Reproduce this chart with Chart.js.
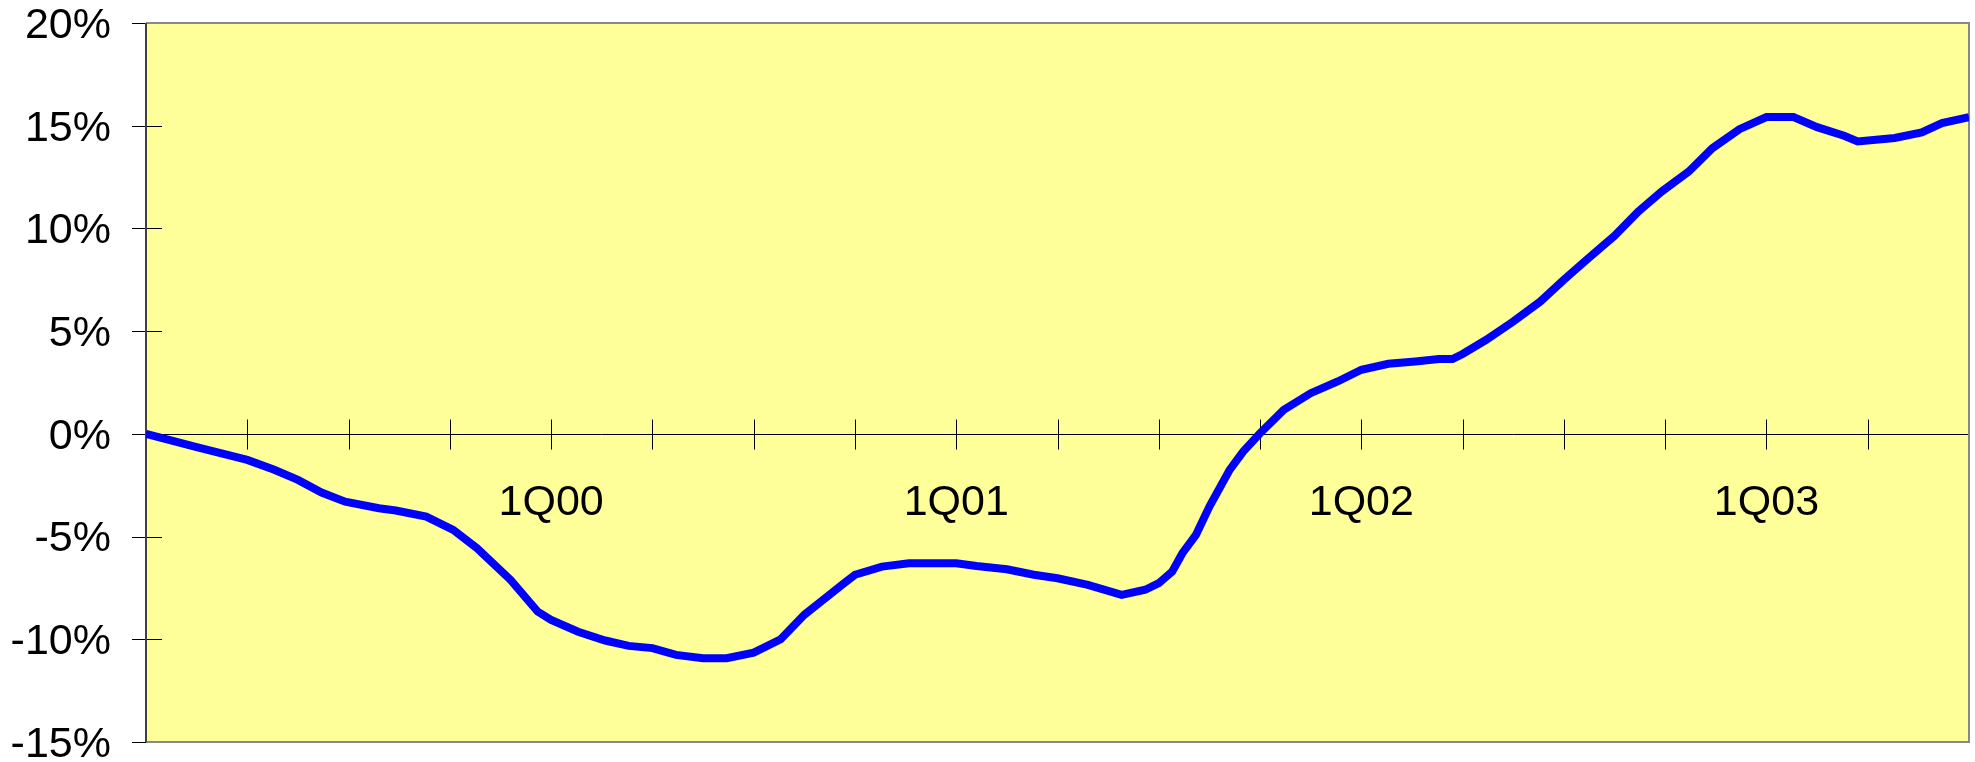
<!DOCTYPE html>
<html>
<head>
<meta charset="utf-8">
<title>Cumulative change</title>
<script src="https://cdn.jsdelivr.net/npm/chart.js@4/dist/chart.umd.min.js"></script>
<style>
  html, body { margin: 0; padding: 0; background: #fff; }
  #wrap { width: 1975px; height: 762px; }
</style>
</head>
<body>
<div id="wrap"><canvas id="growthChart" width="1975" height="762"></canvas></div>
<script>
// months counted from the start of 1Q99
const months = [
  0, 1.5, 3.0, 3.8, 4.5, 5.2, 5.9, 6.9, 7.4, 8.3, 9.1, 9.8, 10.8, 11.6, 12.0,
  12.8, 13.6, 14.3, 15.0, 15.7, 16.5, 17.2, 18.0, 18.8, 19.5, 20.0, 20.7, 21.0,
  21.8, 22.6, 24.0, 24.6, 25.5, 26.3, 27.0, 27.9, 28.9, 29.6, 30.0, 30.4, 30.7,
  31.1, 31.5, 32.1, 32.5, 33.0, 33.7, 34.5, 35.3, 36.0, 36.8, 37.6, 38.3, 38.7,
  39.0, 39.7, 40.5, 41.3, 42.0, 42.7, 43.5, 44.2, 44.9, 45.7, 46.4, 47.2, 48.0,
  48.8, 49.5, 50.3, 50.7, 51.8, 52.6, 53.2, 54.0
];
// cumulative change, percent
const change = [
  0.0, -0.65, -1.27, -1.75, -2.24, -2.86, -3.30, -3.62, -3.73, -4.03, -4.67, -5.56,
  -7.11, -8.65, -9.06, -9.63, -10.06, -10.32, -10.43, -10.76, -10.92, -10.92,
  -10.65, -10.00, -8.81, -8.16, -7.24, -6.86, -6.46, -6.30, -6.30, -6.43, -6.59,
  -6.86, -7.03, -7.35, -7.84, -7.59, -7.27, -6.70, -5.81, -4.92, -3.54, -1.75,
  -0.86, 0.03, 1.17, 1.98, 2.55, 3.12, 3.41, 3.52, 3.64, 3.64, 3.89, 4.58, 5.47,
  6.44, 7.50, 8.51, 9.64, 10.82, 11.80, 12.77, 13.91, 14.83, 15.42, 15.42, 14.93,
  14.51, 14.23, 14.40, 14.67, 15.13, 15.42
];
const labelMonths = [12, 24, 36, 48];
const quarterLabels = ['1Q00', '1Q01', '1Q02', '1Q03'];

const FONT = { family: '"Liberation Sans", Arial, sans-serif', size: 43 };

// yellow plot area, frame, zero line and the cross-shaped tick marks
const plotFrame = {
  id: 'plotFrame',
  beforeDraw(chart) {
    const { ctx, chartArea: a } = chart;
    ctx.save();
    ctx.fillStyle = '#FFFF99';
    ctx.fillRect(a.left, a.top, a.right - a.left, a.bottom - a.top);
    ctx.restore();
  },
  beforeDatasetsDraw(chart) {
    const { ctx, chartArea: a, scales: { x, y } } = chart;
    const y0 = Math.round(y.getPixelForValue(0)) + 0.5;
    ctx.save();
    ctx.lineWidth = 1;
    ctx.strokeStyle = '#000';
    ctx.beginPath();
    ctx.moveTo(a.left, y0);
    ctx.lineTo(a.right, y0);
    x.ticks.forEach((t, i) => {
      const px = Math.round(x.getPixelForTick(i)) + 0.5;
      ctx.moveTo(px, y0 - 15);
      ctx.lineTo(px, y0 + 15);
    });
    y.ticks.forEach((t, i) => {
      const py = Math.round(y.getPixelForTick(i)) + 0.5;
      ctx.moveTo(a.left - 14, py);
      ctx.lineTo(a.left + 16, py);
    });
    ctx.stroke();

    ctx.lineWidth = 2;
    ctx.strokeStyle = '#888';
    ctx.beginPath();
    ctx.moveTo(a.left, a.top);
    ctx.lineTo(a.right, a.top);
    ctx.lineTo(a.right, a.bottom);
    ctx.lineTo(a.left, a.bottom);
    ctx.stroke();
    ctx.strokeStyle = '#404040';
    ctx.beginPath();
    ctx.moveTo(a.left, a.top);
    ctx.lineTo(a.left, a.bottom);
    ctx.stroke();
    ctx.restore();
  }
};

new Chart(document.getElementById('growthChart'), {
  type: 'line',
  data: {
    datasets: [{
      data: months.map((m, i) => ({ x: m, y: change[i] })),
      borderColor: '#0000FF',
      borderWidth: 8,
      pointRadius: 0,
      tension: 0,
      fill: false
    }]
  },
  options: {
    responsive: false,
    animation: false,
    devicePixelRatio: 1,
    layout: { padding: { top: 23, right: 6, bottom: 20, left: 0 } },
    plugins: { legend: { display: false }, tooltip: { enabled: false } },
    scales: {
      x: {
        type: 'linear',
        position: { y: 0 },
        min: 0,
        max: 54,
        grid: { display: false, drawTicks: false },
        border: { display: false },
        ticks: {
          stepSize: 3,
          autoSkip: false,
          maxRotation: 0,
          padding: 43,
          color: '#000',
          font: FONT,
          callback: (v) => {
            const k = labelMonths.indexOf(v);
            return k >= 0 ? quarterLabels[k] : '';
          }
        },
        afterFit: (s) => { s.paddingLeft = 0; s.paddingRight = 0; }
      },
      y: {
        min: -15,
        max: 20,
        grid: { display: false, drawTicks: false },
        border: { display: false },
        ticks: {
          stepSize: 5,
          padding: 35,
          labelOffset: 3,
          color: '#000',
          font: FONT,
          callback: (v) => v + '%'
        },
        afterFit: (s) => { s.width = 146; s.paddingTop = 0; s.paddingBottom = 0; }
      }
    }
  },
  plugins: [plotFrame]
});
</script>
</body>
</html>
